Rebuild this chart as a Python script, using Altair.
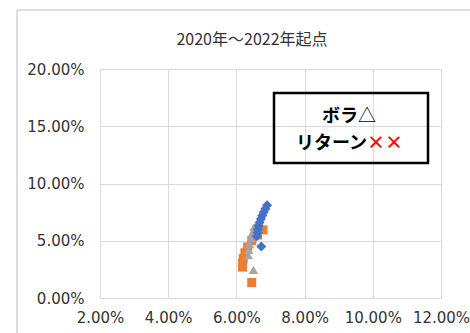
import altair as alt
import pandas as pd

# Risk (x) / return (y) scatter, values in percent
blue_x = [6.90, 6.85, 6.80, 6.76, 6.72, 6.68, 6.65, 6.63, 6.62, 6.60, 6.73]
blue_y = [8.10, 7.80, 7.50, 7.20, 6.90, 6.60, 6.30, 6.00, 5.70, 5.40, 4.50]

orange_x = [6.78, 6.62, 6.45, 6.33, 6.25, 6.20, 6.18, 6.18, 6.45]
orange_y = [5.95, 5.50, 5.00, 4.45, 3.95, 3.45, 3.05, 2.70, 1.35]

gray_x = [6.52, 6.47, 6.42, 6.38, 6.36, 6.35, 6.50]
gray_y = [6.20, 5.70, 5.20, 4.70, 4.20, 3.75, 2.45]

title_text = "2020年～2022年起点"
x_ticks = [0.02, 0.04, 0.06, 0.08, 0.10, 0.12]
y_ticks = [0.0, 0.05, 0.10, 0.15, 0.20]

def frame(xs, ys):
    return pd.DataFrame({"x": [v / 100 for v in xs], "y": [v / 100 for v in ys]})

W, H = 341, 229
FONT_AX = "DejaVu Sans"
FONT_JP = "Noto Sans CJK JP"
GRID = "#D9D9D9"
LABEL = "#333333"

xs = alt.Scale(domain=[0.02, 0.12], nice=False, zero=False)
ys = alt.Scale(domain=[0.0, 0.20], nice=False)

x_axis = alt.Axis(values=x_ticks, format=".2%", title=None, grid=True, gridColor=GRID,
                  domainColor=GRID, ticks=False, labelFont=FONT_AX, labelFontSize=15,
                  labelColor=LABEL, labelPadding=12, labelFlush=False)
y_axis = alt.Axis(values=y_ticks, format=".2%", title=None, grid=True, gridColor=GRID,
                  domain=False, ticks=False, labelFont=FONT_AX, labelFontSize=15,
                  labelColor=LABEL, labelPadding=16)

one = pd.DataFrame({"a": [0]})

# outer chart frame
outer = alt.Chart(one).mark_rect(
    fill="transparent", stroke="#BFBFBF", strokeWidth=1, clip=False
).encode(x=alt.value(-83), x2=alt.value(380), y=alt.value(-59), y2=alt.value(274))

base_axes = alt.Chart(frame([2], [0])).mark_point(opacity=0).encode(
    x=alt.X("x:Q", scale=xs, axis=x_axis),
    y=alt.Y("y:Q", scale=ys, axis=y_axis),
)

def series(xv, yv, shape, color, size):
    return alt.Chart(frame(xv, yv)).mark_point(
        shape=shape, filled=True, color=color, opacity=1, size=size
    ).encode(x=alt.X("x:Q", scale=xs), y=alt.Y("y:Q", scale=ys))

orange = series(orange_x, orange_y, "square", "#ED7D31", 82)
gray = series(gray_x, gray_y, "triangle-up", "#A5A5A5", 90)
blue = series(blue_x, blue_y, "diamond", "#4472C4", 100)

title = alt.Chart(one).mark_text(
    text=title_text, font=FONT_JP, fontSize=16, color=LABEL, align="center", baseline="middle"
).encode(x=alt.value(152), y=alt.value(-29))

box = alt.Chart(one).mark_rect(fill="transparent", stroke="black", strokeWidth=2.5).encode(
    x=alt.value(174), x2=alt.value(328), y=alt.value(24), y2=alt.value(94)
)

def label(text, x, y, align, color="black", weight="bold"):
    return alt.Chart(one).mark_text(
        text=text, font=FONT_JP, fontSize=18, fontWeight=weight, color=color,
        align=align, baseline="middle"
    ).encode(x=alt.value(x), y=alt.value(y))

l1a = label("ボラ", 258, 48, "right")
l1b = label("△", 258, 48, "left", weight="normal")
l2a = label("リターン", 267, 75, "right")
l2b = label("××", 267, 75, "left", color="#FF0000")

chart = alt.layer(
    outer, base_axes, orange, gray, blue, title, box, l1a, l1b, l2a, l2b
).properties(
    width=W, height=H,
    autosize=alt.AutoSizeParams(type="none"),
    padding={"left": 100, "top": 69, "right": 29, "bottom": 35},
).configure_view(stroke=None)

chart.save("out.html", embed_options={"renderer": "svg", "actions": False})
